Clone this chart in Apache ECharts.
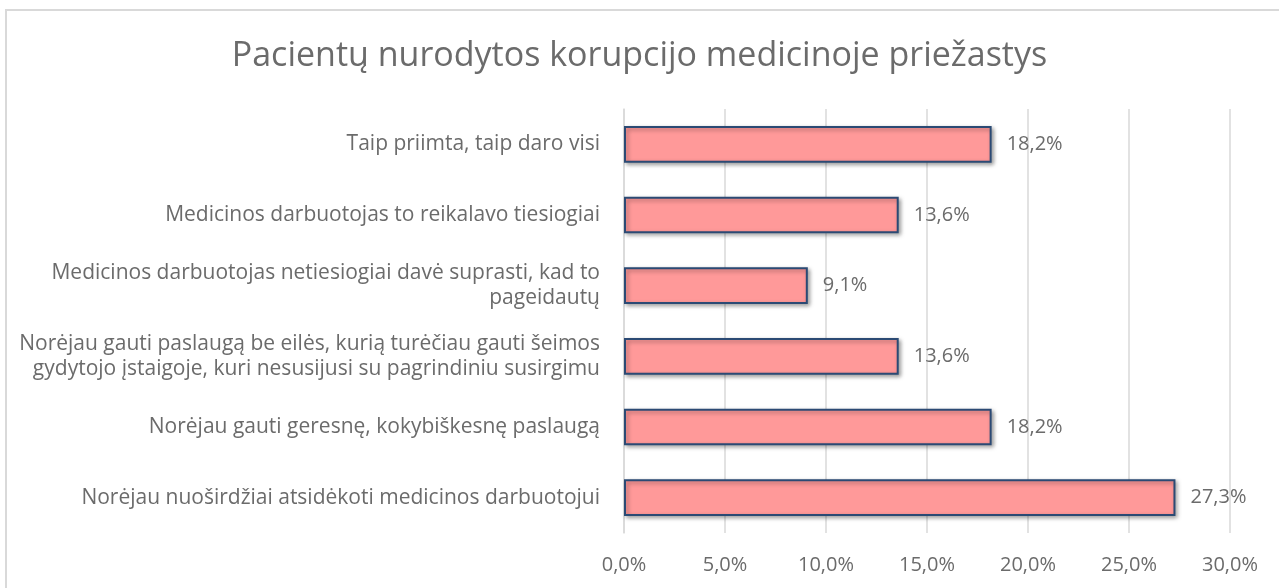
<!DOCTYPE html>
<html>
<head>
<meta charset="utf-8">
<script src="https://cdn.jsdelivr.net/npm/echarts@6/dist/echarts.min.js"></script>
<style>
  html, body { margin: 0; padding: 0; background: #fff; }
  #chart { width: 1279px; height: 588px; }
</style>
</head>
<body>
<div id="chart"></div>
<script>
// categories top to bottom
const reasons = [
  'Taip priimta, taip daro visi',
  'Medicinos darbuotojas to reikalavo tiesiogiai',
  'Medicinos darbuotojas netiesiogiai davė suprasti, kad to\npageidautų',
  'Norėjau gauti paslaugą be eilės, kurią turėčiau gauti šeimos\ngydytojo įstaigoje, kuri nesusijusi su pagrindiniu susirgimu',
  'Norėjau gauti geresnę, kokybiškesnę paslaugą',
  'Norėjau nuoširdžiai atsidėkoti medicinos darbuotojui'
]
const shares = [18.2, 13.6, 9.1, 13.6, 18.2, 27.3]

const fontFam = '"Open Sans", sans-serif'
const pct = v => v.toFixed(1).replace('.', ',') + '%'

const chart = echarts.init(document.getElementById('chart'))
chart.setOption({
  animation: false,
  textStyle: { fontFamily: fontFam },
  title: {
    text: 'Pacientų nurodytos korupcijo medicinoje priežastys',
    left: 'center',
    top: 34,
    textStyle: { fontFamily: fontFam, fontSize: 34, fontWeight: 'normal', color: '#6b6b6b' }
  },
  graphic: [{
    type: 'rect',
    shape: { x: 6, y: 10, width: 1300, height: 620 },
    style: { fill: 'none', stroke: '#d9d9d9', lineWidth: 2 },
    silent: true
  }],
  grid: { left: 624, right: 49, top: 109, bottom: 55 },
  xAxis: {
    type: 'value',
    min: 0,
    max: 30,
    interval: 5,
    axisLine: { show: false },
    axisTick: { show: false },
    splitLine: { lineStyle: { color: '#d9d9d9', width: 1.5 } },
    axisLabel: {
      formatter: v => pct(v),
      fontSize: 20,
      color: '#6b6b6b',
      margin: 22
    }
  },
  yAxis: {
    type: 'category',
    inverse: true,
    data: reasons,
    axisLine: { lineStyle: { color: '#d9d9d9', width: 1.5 } },
    axisTick: { show: false },
    axisLabel: {
      fontSize: 21,
      color: '#6b6b6b',
      margin: 24,
      lineHeight: 25,
      align: 'right'
    }
  },
  series: [{
    type: 'bar',
    data: shares,
    barWidth: '52%',
    itemStyle: {
      color: '#ff9999',
      borderColor: '#2b4a74',
      borderWidth: 2,
      shadowColor: 'rgba(0,0,0,0.35)',
      shadowBlur: 4,
      shadowOffsetX: 2,
      shadowOffsetY: 2
    },
    label: {
      show: true,
      position: 'right',
      distance: 15,
      formatter: p => pct(p.value),
      fontSize: 20,
      color: '#6b6b6b'
    }
  }]
})
</script>
</body>
</html>
